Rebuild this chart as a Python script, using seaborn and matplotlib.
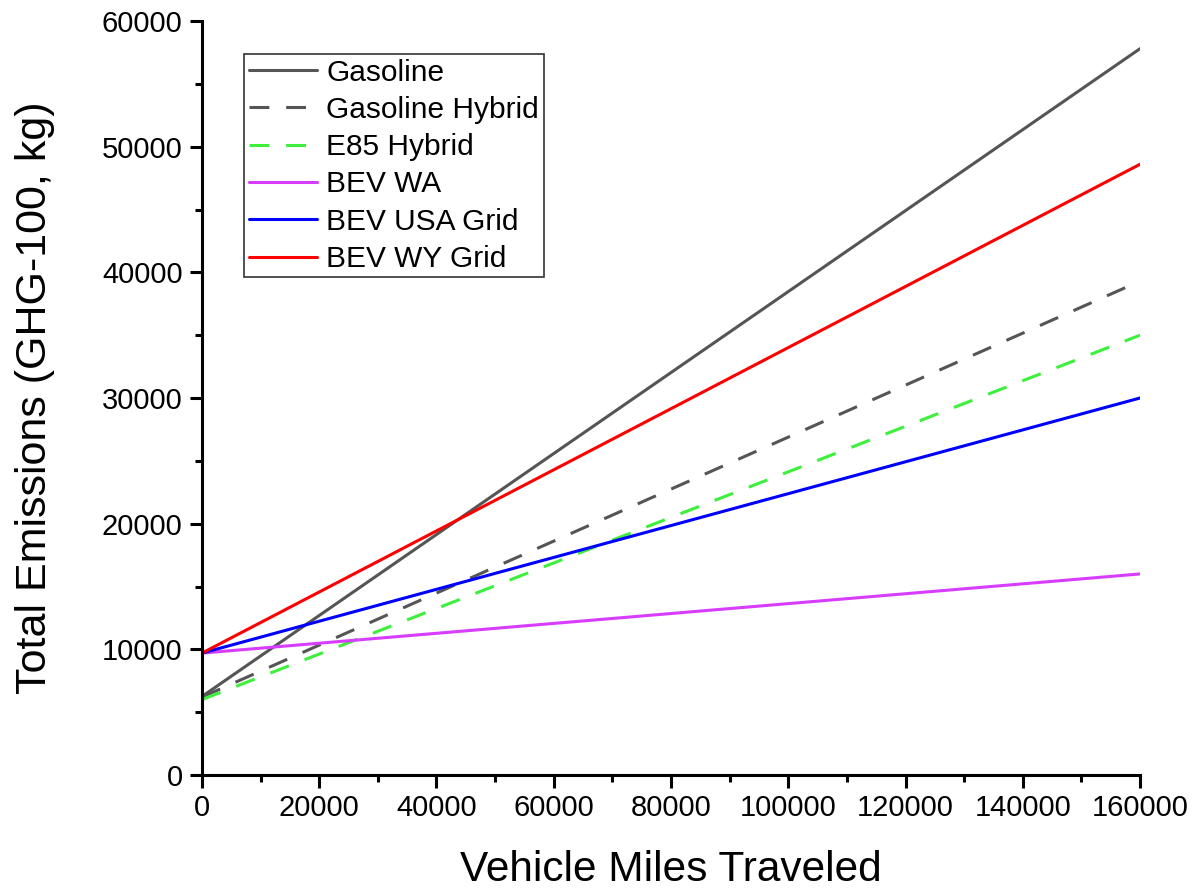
import matplotlib
matplotlib.use("Agg")
import matplotlib.pyplot as plt
import seaborn as sns
import pandas as pd
from matplotlib.ticker import MultipleLocator

sns.set_theme(style="ticks")
plt.rcParams['font.family'] = ['Liberation Sans', 'DejaVu Sans']
plt.rcParams['text.color'] = 'black'

# Data (vehicle miles traveled vs total emissions, kg)
miles = [0, 160000]
gasoline = [6250, 57800]
gasoline_hybrid = [6200, 39300]
e85_hybrid = [6000, 35000]
bev_wa = [9700, 16000]
bev_usa = [9700, 30000]
bev_wy = [9700, 48600]

series_names = ["Gasoline", "Gasoline Hybrid", "E85 Hybrid", "BEV WA", "BEV USA Grid", "BEV WY Grid"]
series_values = [gasoline, gasoline_hybrid, e85_hybrid, bev_wa, bev_usa, bev_wy]
colors = ["#555555", "#555555", "#3CF03C", "#D73CFF", "#0000FF", "#FF0000"]
dashed = [False, True, True, False, False, False]

fig = plt.figure(figsize=(11.98, 8.91), dpi=100)
ax = fig.add_axes([0.1686, 0.1302, 0.9516 - 0.1686, 0.9764 - 0.1302])

for name, vals, c, d in zip(series_names, series_values, colors, dashed):
    df = pd.DataFrame({"x": miles, "y": vals})
    ls = (0, (6.5, 5.5)) if d else "-"
    sns.lineplot(data=df, x="x", y="y", ax=ax, color=c, lw=2.2, linestyle=ls, label=name)

ax.set_xlim(0, 160000)
ax.set_ylim(0, 60000)
ax.xaxis.set_major_locator(MultipleLocator(20000))
ax.xaxis.set_minor_locator(MultipleLocator(10000))
ax.yaxis.set_major_locator(MultipleLocator(10000))
ax.yaxis.set_minor_locator(MultipleLocator(5000))

for s in ["top", "right"]:
    ax.spines[s].set_visible(False)
for s in ["left", "bottom"]:
    ax.spines[s].set_color("black")
    ax.spines[s].set_linewidth(2.2)

ax.tick_params(which="major", direction="out", length=9, width=2.2, color="black",
               labelsize=21, pad=5, labelcolor="black")
ax.tick_params(which="minor", direction="out", length=5, width=2.2, color="black")

ax.set_xlabel("Vehicle Miles Traveled", fontsize=30.5, labelpad=20, color="black")
ax.set_ylabel("Total Emissions (GHG-100, kg)", fontsize=31, labelpad=34, color="black")

leg = ax.legend(loc="upper left", bbox_to_anchor=(0.045, 0.956), fontsize=21.5,
                frameon=True, fancybox=False, edgecolor="black", handlelength=2.3,
                handletextpad=0.3, borderpad=0.15, labelspacing=0.31, borderaxespad=0)
leg.get_frame().set_linewidth(1.2)
for t in leg.get_texts():
    t.set_color("black")

fig.savefig("out.png", dpi=100, facecolor="white")
